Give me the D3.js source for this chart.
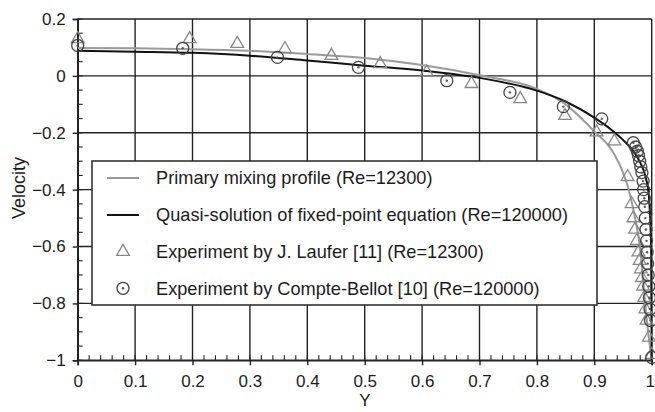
<!DOCTYPE html>
<html><head><meta charset="utf-8">
<script src="https://cdn.jsdelivr.net/npm/d3@7"></script>
<style>body{margin:0;background:#fff}svg{display:block}text{font-family:"Liberation Sans",Arial,sans-serif}</style>
</head><body><svg id="c" width="655" height="412"></svg>
<script>
// Primary mixing profile (Re=12300)
const mixY = [0,0.1,0.2,0.3,0.4,0.5,0.6,0.7,0.8,0.85,0.9,0.93,0.95,0.96,0.97,0.98,0.985,0.99,1.0];
const mixV = [0.098,0.097,0.094,0.088,0.077,0.063,0.038,0.002,-0.046,-0.1,-0.195,-0.26,-0.34,-0.4,-0.49,-0.61,-0.72,-0.83,-1.0];
// Quasi-solution of fixed-point equation (Re=120000)
const quasiY = [0,0.1,0.2,0.3,0.4,0.5,0.6,0.7,0.8,0.85,0.9,0.93,0.95,0.97,0.98,0.99,0.995,0.999,1.0];
const quasiV = [0.088,0.085,0.081,0.071,0.054,0.036,0.019,-0.007,-0.052,-0.09,-0.147,-0.19,-0.225,-0.27,-0.305,-0.36,-0.42,-0.6,-1.0];
// Experiment by J. Laufer [11] (Re=12300)
const laufY = [0,0.195,0.278,0.361,0.442,0.527,0.608,0.686,0.771,0.849,0.904,0.935,0.958,0.965,0.968,0.971,0.974,0.977,0.979,0.981,0.983,0.985,0.987,0.989,0.991,0.995,1.0];
const laufV = [0.13,0.13,0.113,0.095,0.071,0.042,0.013,-0.028,-0.081,-0.14,-0.198,-0.23,-0.355,-0.45,-0.5,-0.54,-0.58,-0.62,-0.65,-0.68,-0.71,-0.74,-0.78,-0.82,-0.86,-0.92,-0.98];
// Experiment by Compte-Bellot [10] (Re=120000)
const cbY = [0,0.183,0.348,0.489,0.643,0.753,0.846,0.913,0.968,0.972,0.975,0.977,0.979,0.981,0.983,0.985,0.986,0.987,0.988,0.989,0.99,0.991,0.992,0.993,0.994,0.995,0.996,0.997,0.998,1.0];
const cbV = [0.107,0.097,0.065,0.03,-0.017,-0.058,-0.108,-0.151,-0.235,-0.25,-0.265,-0.28,-0.3,-0.32,-0.34,-0.37,-0.4,-0.43,-0.46,-0.5,-0.54,-0.58,-0.62,-0.66,-0.7,-0.74,-0.78,-0.82,-0.86,-0.99];
const xTicks = [0,0.1,0.2,0.3,0.4,0.5,0.6,0.7,0.8,0.9,1];
const yTicks = [0.2,0,-0.2,-0.4,-0.6,-0.8,-1];
const legendLabels = ["Primary mixing profile (Re=12300)","Quasi-solution of fixed-point equation (Re=120000)","Experiment by J. Laufer [11] (Re=12300)","Experiment by Compte-Bellot [10] (Re=120000)"];

const svg = d3.select("#c");
const x = d3.scaleLinear().domain([0,1]).range([77.7,651.7]);
const y = d3.scaleLinear().domain([-1,0.2]).range([360.3,19]);
const gridCol = "#222";
const txtCol = "#1c1c1c";

// grid
const g = svg.append("g");
g.selectAll(".vx").data(xTicks).join("line").attr("x1",d=>x(d)).attr("x2",d=>x(d)).attr("y1",y(0.2)).attr("y2",y(-1)).attr("stroke",gridCol).attr("stroke-width",1.4);
g.selectAll(".hy").data(yTicks).join("line").attr("x1",x(0)).attr("x2",x(1)).attr("y1",d=>y(d)).attr("y2",d=>y(d)).attr("stroke",gridCol).attr("stroke-width",1.4);

// minor ticks
const xMinor = d3.range(0,1.0001,0.02);
const yMinor = d3.range(-1,0.2001,0.05);
g.selectAll(".mx").data(xMinor).join("line").attr("x1",d=>x(d)).attr("x2",d=>x(d)).attr("y1",y(-1)).attr("y2",y(-1)-5).attr("stroke",gridCol).attr("stroke-width",1.1);
g.selectAll(".my").data(yMinor).join("line").attr("x1",x(0)).attr("x2",x(0)+5).attr("y1",d=>y(d)).attr("y2",d=>y(d)).attr("stroke",gridCol).attr("stroke-width",1.1);

// axes
const xAxis = d3.axisBottom(x).tickValues(xTicks).tickSize(5).tickFormat(d=>d3.format("")(d));
const xa = svg.append("g").attr("transform",`translate(0,${y(-1)})`).call(xAxis);
xa.select(".domain").attr("stroke",gridCol).attr("stroke-width",1.6);
xa.selectAll(".tick line").attr("stroke",gridCol).attr("stroke-width",1.4);
xa.selectAll("text").attr("font-size",17).attr("fill",txtCol).attr("y",15).attr("dy","0.71em")
  .attr("dx",d=>d===1?-2:0);
const yAxis = d3.axisLeft(y).tickValues(yTicks).tickSize(5).tickFormat(d=>d3.format("")(d));
const ya = svg.append("g").attr("transform",`translate(${x(0)},0)`).call(yAxis);
ya.select(".domain").attr("stroke",gridCol).attr("stroke-width",1.6);
ya.selectAll(".tick line").attr("stroke",gridCol).attr("stroke-width",1.4);
ya.selectAll("text").attr("font-size",17).attr("fill",txtCol).attr("x",-12);

svg.append("text").attr("x",365).attr("y",406).attr("text-anchor","middle").attr("font-size",17).attr("fill",txtCol).text("Y");
svg.append("text").attr("transform","translate(25,188) rotate(-90)").attr("text-anchor","middle").attr("font-size",18).attr("fill",txtCol).text("Velocity");

// curves
const line = d3.line().x(d=>x(d[0])).y(d=>y(d[1])).curve(d3.curveMonotoneX);
svg.append("path").datum(mixY.map((v,i)=>[v,mixV[i]])).attr("d",line).attr("fill","none").attr("stroke","#9a9a9a").attr("stroke-width",2);
svg.append("path").datum(quasiY.map((v,i)=>[v,quasiV[i]])).attr("d",line).attr("fill","none").attr("stroke","#111").attr("stroke-width",2);

// markers
const tri = d3.symbol().type(d3.symbolTriangle).size(70);
svg.append("g").selectAll("path").data(laufY.map((v,i)=>[v,laufV[i]])).join("path")
  .attr("d",tri).attr("transform",d=>`translate(${x(d[0])},${y(d[1])})`).attr("fill","none").attr("stroke","#888").attr("stroke-width",1.3);
const cg = svg.append("g").selectAll("g").data(cbY.map((v,i)=>[v,cbV[i]])).join("g").attr("transform",d=>`translate(${x(d[0])},${y(d[1])})`);
cg.append("circle").attr("r",6).attr("fill","none").attr("stroke","#444").attr("stroke-width",1.3);
cg.append("circle").attr("r",1.2).attr("fill","#555");

// legend
const lg = svg.append("g");
lg.append("rect").attr("x",92).attr("y",161).attr("width",505).attr("height",144).attr("fill","#fff").attr("stroke","#333").attr("stroke-width",1.6);
const ly = [178,215,251.7,288.3];
lg.append("line").attr("x1",107).attr("x2",139).attr("y1",ly[0]).attr("y2",ly[0]).attr("stroke","#9a9a9a").attr("stroke-width",2);
lg.append("line").attr("x1",107).attr("x2",139).attr("y1",ly[1]).attr("y2",ly[1]).attr("stroke","#111").attr("stroke-width",2);
lg.append("path").attr("d",tri).attr("transform",`translate(123,${ly[2]})`).attr("fill","none").attr("stroke","#888").attr("stroke-width",1.3);
lg.append("circle").attr("cx",123).attr("cy",ly[3]).attr("r",6).attr("fill","none").attr("stroke","#444").attr("stroke-width",1.3);
lg.append("circle").attr("cx",123).attr("cy",ly[3]).attr("r",1.2).attr("fill","#555");
lg.selectAll("text.l").data(legendLabels).join("text").attr("x",156).attr("y",(d,i)=>ly[i]).attr("dy","0.35em").attr("font-size",18.2).attr("fill",txtCol).text(d=>d);
</script></body></html>
